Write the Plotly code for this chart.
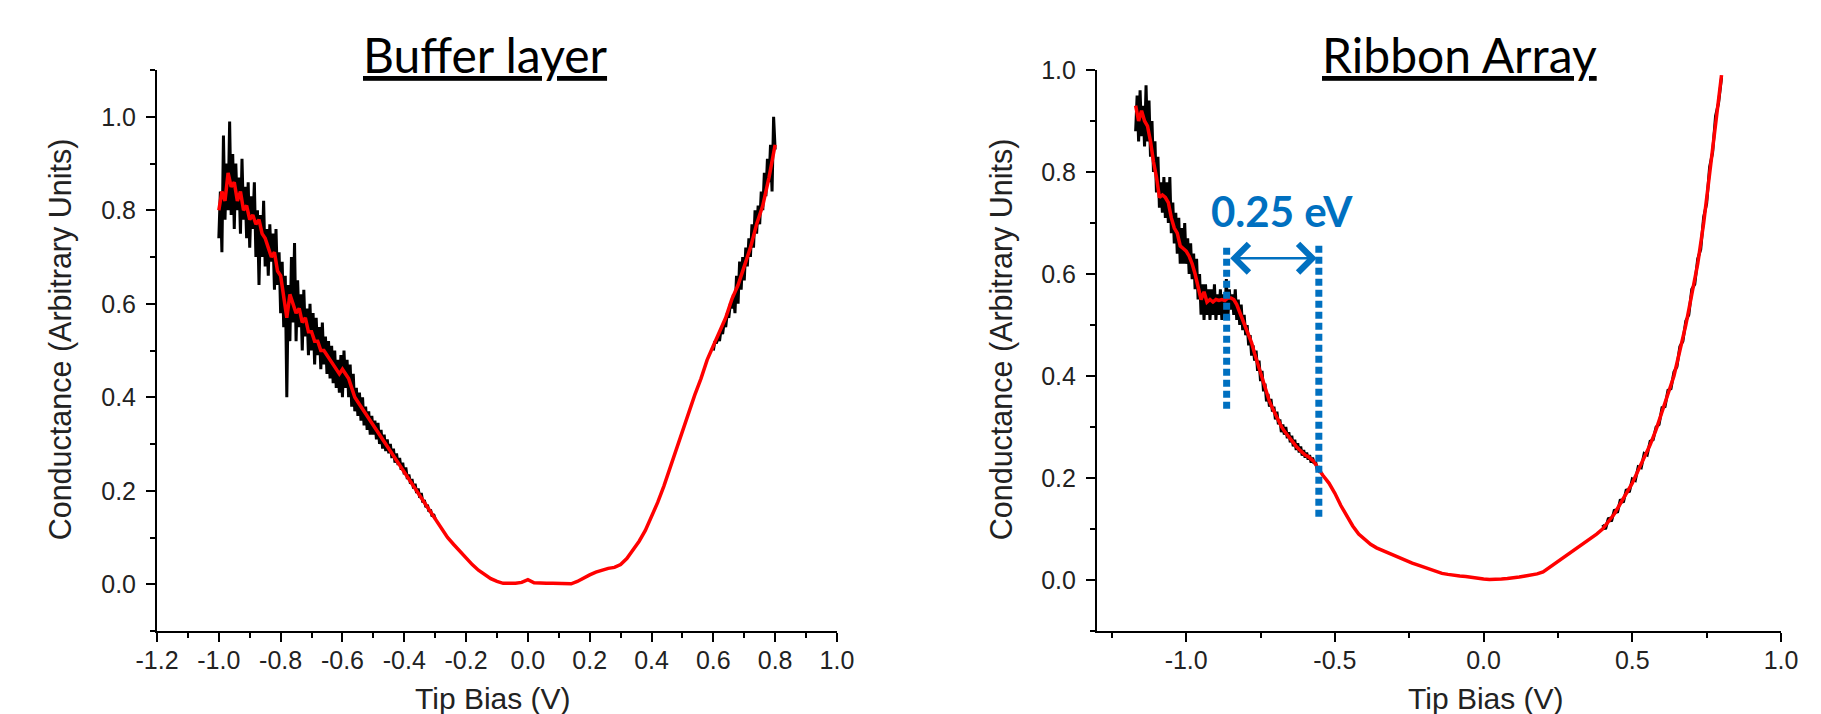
import numpy as np
import plotly.graph_objects as go

# ================= DATA =================
# ---- Left panel: "Buffer layer" ----
# smoothed (red) curve, fine part: x = -1.00 ... -0.40 step 0.01
buf_red_a_start, buf_red_a_step = -1.00, 0.01
buf_red_a_y = [0.80, 0.84, 0.82, 0.88, 0.85, 0.86, 0.82, 0.84, 0.80, 0.81,
               0.78, 0.79, 0.77, 0.78, 0.75, 0.74, 0.72, 0.70, 0.71, 0.67,
               0.66, 0.62, 0.57, 0.62, 0.60, 0.58, 0.59, 0.56, 0.57, 0.54,
               0.54, 0.52, 0.52, 0.50, 0.50, 0.49, 0.48, 0.47, 0.46, 0.45,
               0.46, 0.45, 0.44, 0.42, 0.40, 0.39, 0.38, 0.37, 0.36, 0.35,
               0.34, 0.33, 0.32, 0.31, 0.30, 0.29, 0.28, 0.27, 0.26, 0.25,
               0.24]
# smoothed (red) curve, coarse part: x = -0.38 ... 0.80 step 0.02
buf_red_b_start, buf_red_b_step = -0.38, 0.02
buf_red_b_y = [0.22, 0.20, 0.18, 0.16, 0.14, 0.12, 0.10, 0.085, 0.07, 0.055,
               0.042, 0.03, 0.02, 0.012, 0.006, 0.002, 0.002, 0.002, 0.004, 0.010,
               0.003, 0.002, 0.002, 0.002, 0.002, 0.002, 0.001, 0.006, 0.014, 0.020,
               0.026, 0.030, 0.034, 0.036, 0.042, 0.055, 0.072, 0.092, 0.115, 0.145,
               0.175, 0.21, 0.25, 0.29, 0.33, 0.37, 0.405, 0.44, 0.48, 0.51,
               0.54, 0.57, 0.61, 0.64, 0.68, 0.72, 0.77, 0.81, 0.87, 0.94]
# raw (black) curve, noisy negative side: x = -1.000 ... -0.300 step 0.005
buf_black_a_start, buf_black_a_step = -1.00, 0.005
buf_black_a_y = [0.74, 0.84, 0.71, 0.96, 0.78, 0.90, 0.80, 0.99, 0.79, 0.92,
                 0.76, 0.90, 0.80, 0.87, 0.75, 0.91, 0.78, 0.85, 0.74, 0.86,
                 0.72, 0.83, 0.76, 0.86, 0.70, 0.80, 0.64, 0.79, 0.70, 0.82,
                 0.68, 0.76, 0.66, 0.77, 0.69, 0.75, 0.63, 0.76, 0.64, 0.71,
                 0.58, 0.69, 0.55, 0.66, 0.40, 0.64, 0.52, 0.70, 0.56, 0.73,
                 0.52, 0.65, 0.55, 0.62, 0.50, 0.63, 0.53, 0.59, 0.49, 0.60,
                 0.50, 0.58, 0.47, 0.57, 0.49, 0.55, 0.46, 0.56, 0.47, 0.53,
                 0.45, 0.52, 0.44, 0.51, 0.43, 0.50, 0.42, 0.48, 0.41, 0.49,
                 0.40, 0.50, 0.42, 0.48, 0.40, 0.47, 0.38, 0.45, 0.37, 0.42,
                 0.36, 0.41, 0.35, 0.40, 0.34, 0.38, 0.33, 0.37, 0.32, 0.36,
                 0.32, 0.35, 0.31, 0.345, 0.30, 0.33, 0.29, 0.32, 0.285, 0.31,
                 0.28, 0.30, 0.27, 0.29, 0.26, 0.28, 0.255, 0.27, 0.245, 0.26,
                 0.235, 0.25, 0.225, 0.235, 0.215, 0.225, 0.205, 0.215, 0.195, 0.205,
                 0.185, 0.195, 0.175, 0.18, 0.165, 0.17, 0.155, 0.16, 0.145, 0.15,
                 0.14]
# raw (black) curve, noisy positive side: x = 0.600 ... 0.800 step 0.005
buf_black_b_start, buf_black_b_step = 0.60, 0.005
buf_black_b_y = [0.50, 0.52, 0.515, 0.53, 0.52, 0.545, 0.535, 0.56, 0.55, 0.58,
                 0.57, 0.60, 0.59, 0.62, 0.58, 0.66, 0.60, 0.69, 0.63, 0.70,
                 0.65, 0.72, 0.68, 0.74, 0.70, 0.77, 0.72, 0.80, 0.75, 0.81,
                 0.77, 0.84, 0.80, 0.88, 0.83, 0.91, 0.86, 0.94, 0.84, 1.00,
                 0.93]

# ---- Right panel: "Ribbon Array" ----
rib_red_a_start, rib_red_a_step = -1.17, 0.01
rib_red_a_y = [0.93, 0.90, 0.92, 0.90, 0.89, 0.86, 0.82, 0.79, 0.75, 0.755,
               0.75, 0.74, 0.71, 0.69, 0.68, 0.655, 0.65, 0.645, 0.635, 0.62,
               0.60, 0.575, 0.55, 0.565, 0.545, 0.55, 0.545, 0.55, 0.548, 0.55,
               0.548, 0.553, 0.553, 0.55, 0.54, 0.525, 0.51, 0.497, 0.483, 0.465,
               0.444, 0.425, 0.405, 0.385, 0.365, 0.35, 0.337, 0.325, 0.312, 0.301,
               0.292, 0.284, 0.276, 0.268, 0.262, 0.256, 0.25, 0.245, 0.242, 0.237,
               0.232, 0.222, 0.213]
rib_red_b_start, rib_red_b_step = -0.54, 0.02
rib_red_b_y = [0.205, 0.19, 0.17, 0.146, 0.125, 0.106, 0.09, 0.08, 0.07, 0.063,
               0.058, 0.052, 0.047, 0.042, 0.037, 0.033, 0.029, 0.025, 0.02, 0.016,
               0.013, 0.011, 0.009, 0.008, 0.007, 0.005, 0.003,
               0.002, 0.001, 0.001, 0.002, 0.003, 0.004, 0.006, 0.008, 0.01, 0.012,
               0.016, 0.024, 0.032, 0.04, 0.048, 0.056, 0.064, 0.072, 0.08, 0.09,
               0.10, 0.115, 0.13, 0.15, 0.17, 0.19, 0.215, 0.24, 0.265, 0.295,
               0.33, 0.365, 0.40, 0.45, 0.50, 0.56, 0.62, 0.70, 0.80, 0.90,
               0.99]
rib_black_a_start, rib_black_a_step = -1.17, 0.005
rib_black_a_y = [0.88, 0.95, 0.86, 0.96, 0.87, 0.93, 0.85, 0.97, 0.86, 0.94,
                 0.83, 0.90, 0.80, 0.86, 0.76, 0.83, 0.73, 0.78, 0.72, 0.79,
                 0.71, 0.78, 0.70, 0.79, 0.68, 0.74, 0.66, 0.72, 0.64, 0.71,
                 0.62, 0.69, 0.62, 0.70, 0.62, 0.67, 0.60, 0.66, 0.59, 0.64,
                 0.57, 0.63, 0.55, 0.60, 0.52, 0.58, 0.51, 0.58, 0.52, 0.57,
                 0.51, 0.57, 0.52, 0.58, 0.51, 0.56, 0.52, 0.57, 0.51, 0.56,
                 0.52, 0.59, 0.51, 0.57, 0.53, 0.56, 0.52, 0.57, 0.51, 0.55,
                 0.50, 0.54, 0.49, 0.52, 0.48, 0.50, 0.46, 0.48, 0.44, 0.46,
                 0.43, 0.45, 0.41, 0.43, 0.39, 0.41, 0.37, 0.385, 0.35, 0.365,
                 0.34, 0.355, 0.33, 0.34, 0.315, 0.33, 0.305, 0.315, 0.29, 0.305,
                 0.285, 0.30, 0.278, 0.29, 0.27, 0.283, 0.262, 0.275, 0.255, 0.268,
                 0.25, 0.262, 0.244, 0.255, 0.24, 0.25, 0.236, 0.245, 0.23, 0.24,
                 0.228, 0.232, 0.218, 0.22, 0.21]
rib_black_b_start, rib_black_b_step = 0.40, 0.01
rib_black_b_y = [0.108, 0.10, 0.122, 0.115, 0.138, 0.132, 0.158, 0.152, 0.178, 0.172,
                 0.198, 0.195, 0.222, 0.22, 0.248, 0.245, 0.272, 0.275, 0.30, 0.305,
                 0.338, 0.34, 0.372, 0.375, 0.408, 0.418, 0.458, 0.468, 0.508, 0.52,
                 0.57, 0.58, 0.63, 0.648, 0.712, 0.738, 0.81, 0.838, 0.91, 0.935,
                 0.985]

# ---- Gap annotation (right panel) ----
gap_x = [-0.864, -0.554]
gap_y_bottom = [0.336, 0.124]
gap_y_top = [0.659, 0.656]
arrow_x = [-0.857, -0.561]
arrow_y = 0.631
gap_label = "0.25 eV"
gap_label_xy = (-0.679, 0.7235)

# ---- Axes ticks ----
buf_xticks = [-1.2, -1.0, -0.8, -0.6, -0.4, -0.2, 0.0, 0.2, 0.4, 0.6, 0.8, 1.0]
buf_xticklabels = ["-1.2", "-1.0", "-0.8", "-0.6", "-0.4", "-0.2", "0.0", "0.2", "0.4", "0.6", "0.8", "1.0"]
rib_xticks = [-1.0, -0.5, 0.0, 0.5, 1.0]
rib_xticklabels = ["-1.0", "-0.5", "0.0", "0.5", "1.0"]
yticks = [0.0, 0.2, 0.4, 0.6, 0.8, 1.0]
yticklabels = ["0.0", "0.2", "0.4", "0.6", "0.8", "1.0"]

titles = ["Buffer layer", "Ribbon Array"]
x_title = "Tip Bias (V)"
y_title = "Conductance (Arbitrary Units)"

# ================= FIGURE =================
def grid(start, step, values):
    return list(np.round(start + step * np.arange(len(values)), 4))

BLUE = "#0070C0"
fig = go.Figure()

# Left panel traces
fig.add_trace(go.Scatter(
    x=grid(buf_black_a_start, buf_black_a_step, buf_black_a_y) + [None] + grid(buf_black_b_start, buf_black_b_step, buf_black_b_y),
    y=buf_black_a_y + [None] + buf_black_b_y,
    mode="lines", line=dict(color="black", width=3), xaxis="x", yaxis="y"))
fig.add_trace(go.Scatter(
    x=grid(buf_red_a_start, buf_red_a_step, buf_red_a_y) + grid(buf_red_b_start, buf_red_b_step, buf_red_b_y),
    y=buf_red_a_y + buf_red_b_y,
    mode="lines", line=dict(color="#ff0000", width=3.5), xaxis="x", yaxis="y"))

# Right panel traces
fig.add_trace(go.Scatter(
    x=grid(rib_black_a_start, rib_black_a_step, rib_black_a_y) + [None] + grid(rib_black_b_start, rib_black_b_step, rib_black_b_y),
    y=rib_black_a_y + [None] + rib_black_b_y,
    mode="lines", line=dict(color="black", width=3), xaxis="x2", yaxis="y2"))
fig.add_trace(go.Scatter(
    x=grid(rib_red_a_start, rib_red_a_step, rib_red_a_y) + grid(rib_red_b_start, rib_red_b_step, rib_red_b_y),
    y=rib_red_a_y + rib_red_b_y,
    mode="lines", line=dict(color="#ff0000", width=3.5), xaxis="x2", yaxis="y2"))

# dotted gap markers
for gx, gy0, gy1 in zip(gap_x, gap_y_bottom, gap_y_top):
    fig.add_trace(go.Scatter(x=[gx, gx], y=[gy0, gy1], mode="lines",
                             line=dict(color=BLUE, width=7, dash="7px,4px"),
                             xaxis="x2", yaxis="y2"))

fig.add_annotation(x=arrow_x[1], y=arrow_y, ax=arrow_x[0], ay=arrow_y,
                   xref="x2", yref="y2", axref="x2", ayref="y2", text="",
                   showarrow=True, arrowhead=4, startarrowhead=4, arrowside="end+start",
                   arrowsize=2.2, startarrowsize=2.2, arrowwidth=2.5, arrowcolor=BLUE)
fig.add_annotation(x=gap_label_xy[0], y=gap_label_xy[1], xref="x2", yref="y2",
                   text="<b>" + gap_label + "</b>", showarrow=False,
                   font=dict(family="Lato", size=42, color=BLUE),
                   xanchor="center", yanchor="middle")

# Titles
for tx, t in zip([0.2020, 0.8023], titles):
    fig.add_annotation(x=tx, y=1.028, xref="paper", yref="paper", text=t, showarrow=False,
                       font=dict(family="Lato", size=48, color="black", lineposition="under"),
                       xanchor="center", yanchor="middle")

# Axis titles
TXT = dict(family="Liberation Sans, Arial", size=30, color="#222")
for tx in [0.207, 0.8183]:
    fig.add_annotation(x=tx, y=-0.121, xref="paper", yref="paper", text=x_title,
                       showarrow=False, font=TXT, xanchor="center", yanchor="middle")
for tx in [-0.0597, 0.5197]:
    fig.add_annotation(x=tx, y=0.52, xref="paper", yref="paper", text=y_title,
                       showarrow=False, font=dict(TXT, size=30.5), textangle=-90,
                       xanchor="center", yanchor="middle")

axis_common = dict(showline=True, linecolor="black", linewidth=2, ticks="outside",
                   ticklen=9, tickwidth=2, tickcolor="black", showgrid=False,
                   zeroline=False, mirror=False, automargin=False,
                   tickfont=dict(family="Liberation Sans, Arial", size=25, color="#222"))

minor_common = dict(ticks="outside", ticklen=5, tickwidth=2, tickcolor="black", tick0=0)

fig.update_layout(
    width=1821, height=714,
    margin=dict(l=149, r=48, t=62, b=91),
    paper_bgcolor="white", plot_bgcolor="white", showlegend=False,
    xaxis=dict(domain=[0, 0.4187], range=[-1.2, 1.0], anchor="y",
               tickmode="array", tickvals=buf_xticks, ticktext=buf_xticklabels,
               ticklabelstandoff=-3, minor=dict(minor_common, dtick=0.1), **axis_common),
    yaxis=dict(domain=[0, 1], range=[-0.1, 1.1], anchor="x",
               tickmode="array", tickvals=yticks, ticktext=yticklabels,
               ticklabelstandoff=5, minor=dict(minor_common, dtick=0.1), **axis_common),
    xaxis2=dict(domain=[0.5788, 1.0], range=[-1.3, 1.0], anchor="y2",
                tickmode="array", tickvals=rib_xticks, ticktext=rib_xticklabels,
                ticklabelstandoff=-3, minor=dict(minor_common, dtick=0.25), **axis_common),
    yaxis2=dict(domain=[0, 1], range=[-0.1, 1.0], anchor="x2",
                tickmode="array", tickvals=yticks, ticktext=yticklabels,
                ticklabelstandoff=5, minor=dict(minor_common, dtick=0.1), **axis_common),
)

fig.write_html("out.html")
